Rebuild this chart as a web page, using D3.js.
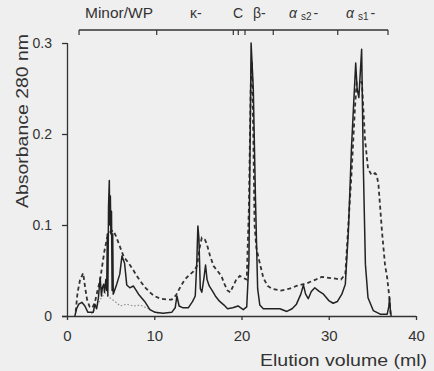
<!DOCTYPE html>
<html>
<head>
<meta charset="utf-8">
<script src="https://cdn.jsdelivr.net/npm/d3@7/dist/d3.min.js"></script>
<style>
  html, body { margin: 0; padding: 0; background: #efefef; }
  svg { display: block; }
  text { font-family: "Liberation Sans", Arial, Helvetica, sans-serif; fill: #333; }
</style>
</head>
<body>
<svg id="chart" width="434" height="371"></svg>
<script>
// ---- data ----
const xTicks = [0, 10, 20, 30, 40];
const yTicks = [0, 0.1, 0.2, 0.3];
const yTickLabels = ["0", "0.1", "0.2", "0.3"];
const bracketStart = 1.38;
const bracketEnd = 36.79;
const bracketTicks = [1.38, 10.28, 19.06, 19.63, 20.4, 23.64, 31.03, 36.79];
const fractionLabels = ["Minor/WP", "κ-", "C", "β-", "αs2-", "αs1-"];

const solidSeries = [
[0.9,0.0],[1.1,0.008],[1.35,0.013],[1.7,0.015],[2.05,0.011],[2.4,0.004],[3.0,0.004],[3.2,0.013],[3.4,0.008],[3.6,0.02],[3.8,0.042],[3.95,0.022],[4.05,0.031],[4.2,0.035],[4.3,0.026],[4.45,0.04],[4.55,0.028],[4.62,0.09],[4.68,0.022],[4.76,0.12],[4.85,0.149],[4.9,0.1],[4.97,0.132],[5.03,0.09],[5.1,0.115],[5.17,0.028],[5.24,0.09],[5.3,0.024],[5.45,0.028],[5.7,0.035],[6.05,0.046],[6.3,0.066],[6.6,0.058],[6.85,0.034],[7.2,0.031],[7.6,0.033],[8.2,0.024],[8.9,0.016],[9.5,0.007],[10.1,0.004],[11,0.003],[12,0.004],[12.4,0.009],[12.6,0.022],[12.85,0.011],[13.3,0.009],[13.9,0.009],[14.4,0.016],[14.7,0.022],[14.88,0.06],[15.0,0.099],[15.12,0.085],[15.28,0.03],[15.45,0.026],[15.7,0.042],[15.88,0.056],[16.05,0.04],[16.3,0.033],[16.7,0.027],[17.0,0.022],[17.5,0.016],[18.0,0.012],[18.4,0.008],[19.0,0.009],[19.6,0.011],[20.2,0.007],[20.6,0.01],[20.85,0.06],[21.1,0.3],[21.35,0.25],[21.6,0.13],[21.85,0.03],[22.1,0.012],[22.5,0.008],[23.5,0.008],[24.4,0.008],[25.2,0.005],[25.8,0.008],[26.3,0.013],[26.8,0.024],[27.1,0.034],[27.35,0.024],[27.65,0.019],[28.0,0.027],[28.4,0.031],[28.9,0.027],[29.4,0.024],[30.0,0.017],[30.5,0.014],[31.0,0.016],[31.5,0.024],[31.9,0.035],[32.25,0.093],[32.6,0.184],[33.09,0.278],[33.25,0.25],[33.45,0.24],[33.77,0.293],[33.96,0.166],[34.2,0.057],[34.5,0.02],[35.1,0.006],[35.9,0.002],[36.7,0.002],[36.88,0.01],[36.97,0.02],[37.05,0.008],[37.15,0.0]
];

const dashedSeries = [
[1.0,0.005],[1.2,0.025],[1.5,0.04],[1.85,0.047],[2.1,0.03],[2.3,0.018],[2.6,0.01],[2.9,0.009],[3.2,0.015],[3.5,0.028],[3.8,0.04],[4.0,0.053],[4.3,0.072],[4.6,0.086],[5.0,0.093],[5.3,0.094],[5.6,0.088],[6.0,0.078],[6.5,0.065],[7.0,0.059],[7.5,0.052],[8.0,0.044],[8.5,0.037],[9.0,0.031],[9.5,0.026],[10.0,0.022],[10.7,0.019],[11.5,0.018],[12.0,0.018],[12.5,0.023],[13.0,0.032],[13.5,0.04],[14.0,0.045],[14.5,0.049],[14.9,0.055],[15.2,0.075],[15.45,0.086],[15.8,0.084],[16.0,0.08],[16.4,0.066],[16.8,0.055],[17.2,0.05],[17.7,0.044],[18.0,0.036],[18.4,0.028],[18.7,0.026],[19.0,0.032],[19.4,0.04],[19.8,0.044],[20.2,0.042],[20.6,0.04],[20.85,0.12],[21.05,0.25],[21.2,0.28],[21.35,0.2],[21.5,0.1],[21.7,0.075],[22.0,0.062],[22.5,0.042],[23.0,0.033],[23.5,0.03],[24.5,0.028],[25.5,0.03],[26.3,0.033],[27.5,0.036],[28.5,0.04],[29.2,0.043],[30.0,0.042],[30.8,0.041],[31.4,0.04],[31.9,0.046],[32.2,0.093],[32.6,0.155],[33.0,0.228],[33.2,0.257],[33.8,0.257],[34.15,0.195],[34.5,0.162],[34.9,0.155],[35.3,0.157],[35.5,0.155],[35.7,0.144],[36.1,0.093],[36.45,0.056],[36.7,0.042],[36.95,0.02],[37.1,0.0]
];

const dottedSeries = [
[2.8,0.002],[3.3,0.008],[3.8,0.018],[4.35,0.025],[4.9,0.02],[5.5,0.016],[6.1,0.011],[6.8,0.013],[7.6,0.011],[8.4,0.012],[9.1,0.009],[9.9,0.005],[10.5,0.003]
];

// ---- drawing ----
const svg = d3.select("#chart");
const x = d3.scaleLinear().domain([0, 40]).range([67, 416]);
const y = d3.scaleLinear().domain([0, 0.3]).range([316, 43]);

// x axis
const xAxis = svg.append("g").attr("transform", `translate(0,${y(0)})`)
  .call(d3.axisBottom(x).tickValues(xTicks).tickSize(4).tickPadding(10).tickFormat(d3.format("d")));
xAxis.select(".domain").attr("d", `M${x(0) - 5},0.5H${x(40)}`);
xAxis.selectAll("path,line").attr("stroke", "#333").attr("stroke-width", 1.3);
xAxis.selectAll("text").style("font-size", "15px").attr("fill", "#333").style("font-family", "Liberation Sans, Arial, sans-serif");

// y axis
const yAxis = svg.append("g").attr("transform", `translate(${x(0)},0)`)
  .call(d3.axisLeft(y).tickValues(yTicks).tickSize(5).tickPadding(10).tickFormat((d, i) => yTickLabels[i]));
yAxis.select(".domain").attr("d", `M0.5,${y(0)}V${y(0.3)}`);
yAxis.selectAll("path,line").attr("stroke", "#333").attr("stroke-width", 1.3);
yAxis.selectAll("text").style("font-size", "14px").attr("fill", "#333").style("font-family", "Liberation Sans, Arial, sans-serif");

// axis titles
svg.append("text")
  .attr("x", 427).attr("y", 366)
  .attr("text-anchor", "end")
  .attr("textLength", 167).attr("lengthAdjust", "spacingAndGlyphs")
  .style("font-size", "16px")
  .text("Elution volume (ml)");

svg.append("text")
  .attr("transform", "translate(28,121) rotate(-90)")
  .attr("text-anchor", "middle")
  .attr("textLength", 174).attr("lengthAdjust", "spacingAndGlyphs")
  .style("font-size", "17px")
  .text("Absorbance 280 nm");

// top fraction bracket
const bracketY = 30;
svg.append("line")
  .attr("x1", x(bracketStart)).attr("x2", x(bracketEnd))
  .attr("y1", bracketY).attr("y2", bracketY)
  .attr("stroke", "#333").attr("stroke-width", 1.4);
svg.selectAll(".btick").data(bracketTicks).join("line")
  .attr("class", "btick")
  .attr("x1", d => x(d)).attr("x2", d => x(d))
  .attr("y1", bracketY).attr("y2", bracketY + 5)
  .attr("stroke", "#333").attr("stroke-width", 1.2);

// fraction labels
const labG = svg.append("g").style("font-size", "14px");
labG.append("text").attr("x", 85).attr("y", 18).attr("textLength", 68).attr("lengthAdjust", "spacingAndGlyphs").text(fractionLabels[0]);
labG.append("text").attr("x", 190).attr("y", 18).text(fractionLabels[1]);
labG.append("text").attr("x", 233).attr("y", 18).text(fractionLabels[2]);
labG.append("text").attr("x", 253).attr("y", 18).text(fractionLabels[3]);
const as2 = labG.append("text").attr("x", 289).attr("y", 18);
as2.append("tspan").style("font-style", "italic").text("α");
as2.append("tspan").attr("dx", 4).attr("dy", 2).style("font-size", "10px").text("s2");
as2.append("tspan").attr("dx", 2).attr("dy", -2).text("-");
const as1 = labG.append("text").attr("x", 346).attr("y", 18);
as1.append("tspan").style("font-style", "italic").text("α");
as1.append("tspan").attr("dx", 4).attr("dy", 2).style("font-size", "10px").text("s1");
as1.append("tspan").attr("dx", 2).attr("dy", -2).text("-");

// series lines
const line = d3.line().x(d => x(d[0])).y(d => y(d[1]));

svg.append("path").datum(dottedSeries)
  .attr("d", line).attr("fill", "none")
  .attr("stroke", "#888").attr("stroke-width", 1.1)
  .attr("stroke-dasharray", "1.5,2");

svg.append("path").datum(dashedSeries)
  .attr("d", line).attr("fill", "none")
  .attr("stroke", "#333").attr("stroke-width", 1.8)
  .attr("stroke-dasharray", "4,3");

svg.append("path").datum(solidSeries)
  .attr("d", line).attr("fill", "none")
  .attr("stroke", "#222").attr("stroke-width", 1.5)
  .attr("stroke-linejoin", "round");
</script>
</body>
</html>
